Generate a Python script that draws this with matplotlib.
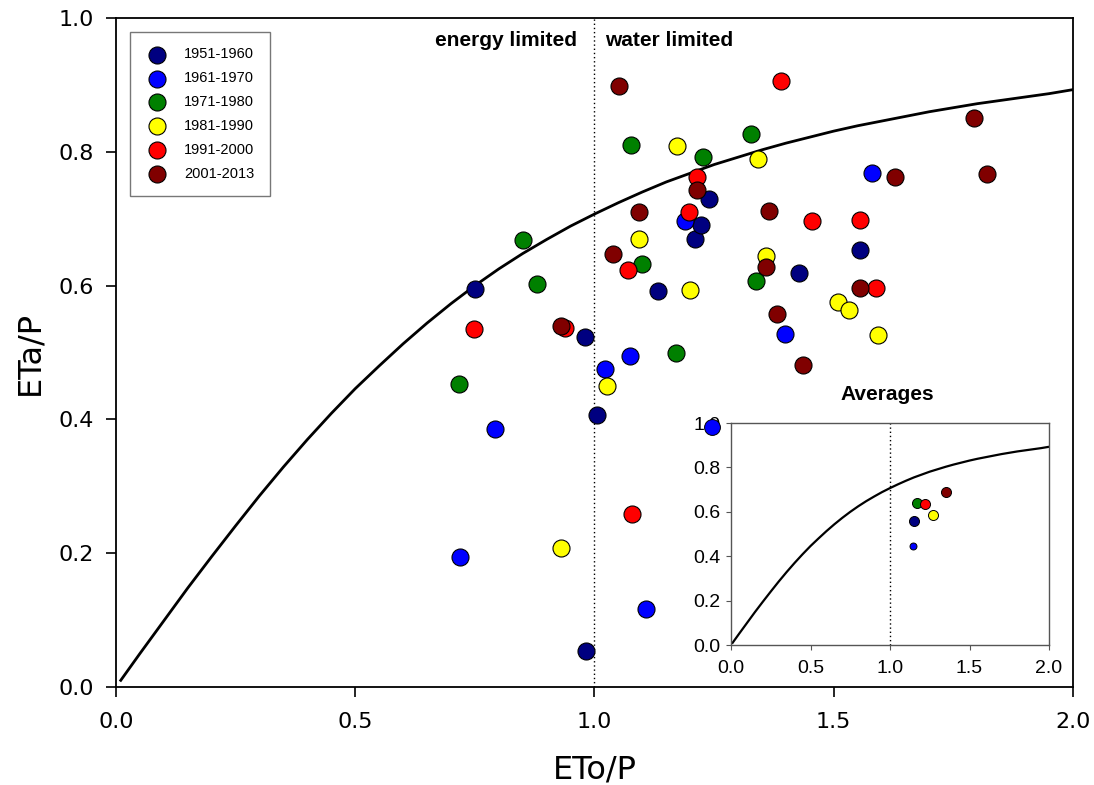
import matplotlib
matplotlib.use('Agg')
import matplotlib.pyplot as plt

# decades and their colours
periods = ['1951-1960', '1961-1970', '1971-1980', '1981-1990', '1991-2000', '2001-2013']
colors = ['#000080', '#0000ff', '#008000', '#ffff00', '#ff0000', '#800000']

# ETo/P and ETa/P per year
x_5160 = [0.751, 0.980, 1.006, 0.983, 1.133, 1.210, 1.223, 1.239, 1.428, 1.554]
y_5160 = [0.595, 0.523, 0.407, 0.054, 0.592, 0.670, 0.690, 0.729, 0.619, 0.653]
x_6170 = [0.720, 0.792, 1.021, 1.074, 1.108, 1.190, 1.399, 1.581]
y_6170 = [0.195, 0.386, 0.476, 0.495, 0.116, 0.697, 0.527, 0.768]
x_7180 = [0.716, 0.851, 0.879, 1.076, 1.100, 1.170, 1.227, 1.328, 1.338]
y_7180 = [0.453, 0.668, 0.603, 0.810, 0.633, 0.500, 0.792, 0.826, 0.607]
x_8190 = [0.931, 1.027, 1.094, 1.172, 1.199, 1.341, 1.358, 1.509, 1.532, 1.593]
y_8190 = [0.208, 0.450, 0.669, 0.808, 0.594, 0.789, 0.644, 0.575, 0.564, 0.526]
x_9100 = [0.749, 0.938, 1.070, 1.079, 1.197, 1.214, 1.389, 1.455, 1.555, 1.588]
y_9100 = [0.535, 0.537, 0.623, 0.259, 0.710, 0.762, 0.906, 0.696, 0.698, 0.596]
x_0113 = [0.929, 1.039, 1.052, 1.092, 1.214, 1.358, 1.365, 1.381, 1.435, 1.554, 1.627, 1.794, 1.820]
y_0113 = [0.540, 0.648, 0.899, 0.710, 0.743, 0.628, 0.711, 0.558, 0.481, 0.596, 0.763, 0.850, 0.767]

xs = [x_5160, x_6170, x_7180, x_8190, x_9100, x_0113]
ys = [y_5160, y_6170, y_7180, y_8190, y_9100, y_0113]

# decade averages (inset)
avg_x = [1.149, 1.145, 1.172, 1.272, 1.222, 1.354]
avg_y = [0.557, 0.446, 0.641, 0.587, 0.635, 0.689]
avg_s = [52, 25, 52, 52, 52, 52]

# Budyko-type curve
curve_x = [0.01, 0.05, 0.10, 0.15, 0.20, 0.25, 0.30, 0.35, 0.40, 0.45, 0.50,
           0.55, 0.60, 0.65, 0.70, 0.75, 0.80, 0.85, 0.90, 0.95, 1.00,
           1.05, 1.10, 1.15, 1.20, 1.25, 1.30, 1.35, 1.40, 1.45, 1.50,
           1.55, 1.60, 1.65, 1.70, 1.75, 1.80, 1.85, 1.90, 1.95, 2.00]
curve_y = [0.010, 0.050, 0.099, 0.148, 0.195, 0.241, 0.286, 0.329, 0.370, 0.409, 0.446,
           0.480, 0.513, 0.544, 0.573, 0.600, 0.625, 0.648, 0.669, 0.689, 0.707,
           0.724, 0.740, 0.755, 0.768, 0.781, 0.792, 0.803, 0.813, 0.822, 0.831,
           0.839, 0.846, 0.853, 0.860, 0.866, 0.872, 0.877, 0.882, 0.887, 0.893]

xticks = [0.0, 0.5, 1.0, 1.5, 2.0]
yticks = [0.0, 0.2, 0.4, 0.6, 0.8, 1.0]

plt.rcParams['font.family'] = 'DejaVu Sans'
arial = 'Liberation Sans'

fig = plt.figure(figsize=(10.94, 7.85), dpi=100)
ax = fig.add_axes([0.1060, 0.1248, 0.8748, 0.8522])

ax.plot(curve_x, curve_y, color='black', lw=2.0, zorder=2)
ax.axvline(1.0, color='black', lw=1.0, ls=(0, (1, 2)), zorder=1)
for i in range(len(periods)):
    ax.scatter(xs[i], ys[i], s=150, c=colors[i], edgecolors='black',
               linewidths=0.8, label=periods[i], zorder=3 + i)

ax.set_xlim(0, 2.0)
ax.set_ylim(0, 1.0)
ax.set_xticks(xticks)
ax.set_yticks(yticks)
ax.set_xticklabels(['%.1f' % v for v in xticks])
ax.set_yticklabels(['%.1f' % v for v in yticks])
ax.tick_params(direction='out', length=7, width=1.2, labelsize=16)
ax.tick_params(axis='x', pad=11)
ax.tick_params(axis='y', pad=9)
for sp in ax.spines.values():
    sp.set_linewidth(1.3)
ax.set_xlabel('ETo/P', fontsize=23, labelpad=16)
ax.set_ylabel('ETa/P', fontsize=23, labelpad=9)

ax.text(0.963, 0.967, 'energy limited', ha='right', va='center', fontsize=15,
        fontweight='bold', family=arial)
ax.text(1.022, 0.967, 'water limited', ha='left', va='center', fontsize=15,
        fontweight='bold', family=arial)

leg = ax.legend(loc='upper left', bbox_to_anchor=(0.0146, 0.979), borderaxespad=0,
                prop={'family': arial, 'size': 10.5}, frameon=True, fancybox=False,
                edgecolor='#555555', labelspacing=0.68, handletextpad=1.06,
                borderpad=1.05, markerscale=1.0, handlelength=1.6)
leg.get_frame().set_linewidth(1.0)

# inset: averages
axin = fig.add_axes([0.6682, 0.1783, 0.2907, 0.2828])
axin.set_facecolor('white')
axin.plot(curve_x, curve_y, color='black', lw=1.6, zorder=2)
axin.axvline(1.0, color='black', lw=1.0, ls=(0, (1, 2)), zorder=1)
for i in range(len(periods)):
    axin.scatter(avg_x[i], avg_y[i], s=avg_s[i], c=colors[i], edgecolors='black',
                 linewidths=0.7, zorder=3 + i)
# stray marker sitting on the 1.0 label
axin.scatter([-0.12], [0.98], s=130, c=colors[1], edgecolors='black',
             linewidths=0.7, zorder=10, clip_on=False)
axin.set_xlim(0, 2.0)
axin.set_ylim(0, 1.0)
axin.set_xticks(xticks)
axin.set_yticks(yticks)
axin.set_xticklabels(['%.1f' % v for v in xticks], family=arial)
axin.set_yticklabels(['%.1f' % v for v in yticks], family=arial)
axin.tick_params(direction='out', length=3.5, width=0.8, labelsize=14,
                 color='#555555')
axin.tick_params(axis='x', pad=7)
axin.tick_params(axis='y', pad=4)
for sp in axin.spines.values():
    sp.set_color('#555555')
    sp.set_linewidth(1.0)
axin.text(0.4906, 1.1306, 'Averages', transform=axin.transAxes, ha='center',
          va='center', fontsize=15, fontweight='bold', family=arial)

fig.savefig('out.png', dpi=100)
